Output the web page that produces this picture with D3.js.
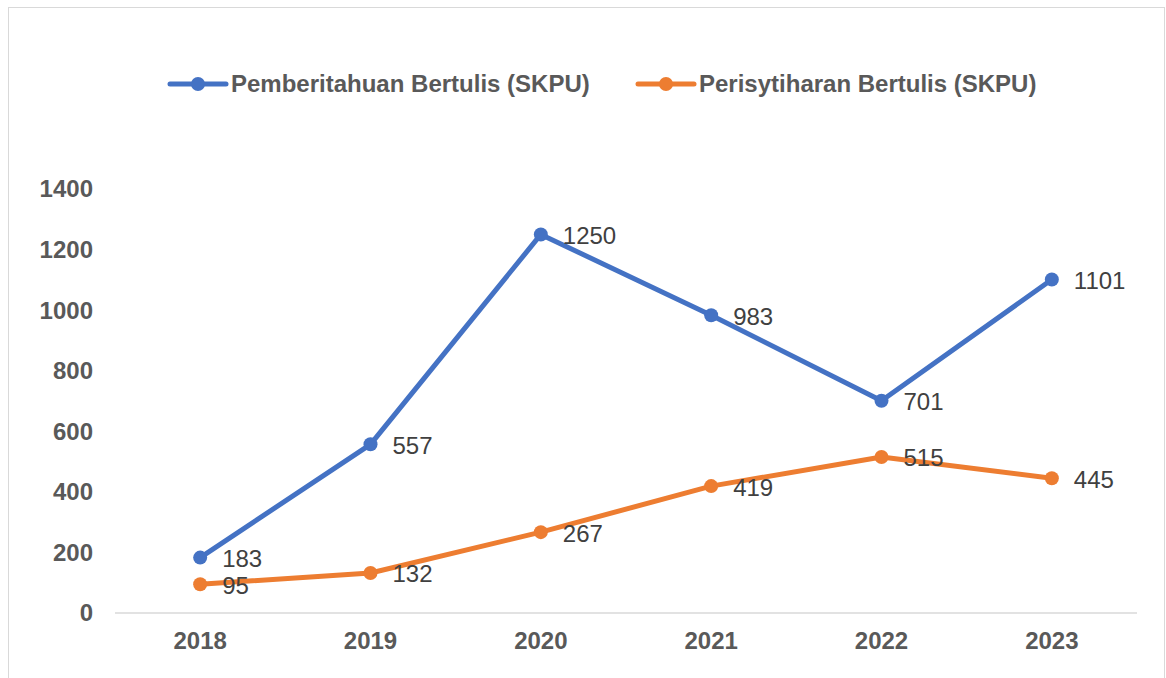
<!DOCTYPE html>
<html>
<head>
<meta charset="utf-8">
<script src="https://cdn.jsdelivr.net/npm/d3@7"></script>
<style>
  body { margin: 0; background: #fff; }
  svg { display: block; font-family: "Liberation Sans", Arial, sans-serif; }
</style>
</head>
<body>
<div id="chart"></div>
<script>
// chart data
var years = ["2018", "2019", "2020", "2021", "2022", "2023"];
var pemberitahuan = [183, 557, 1250, 983, 701, 1101];
var perisytiharan = [95, 132, 267, 419, 515, 445];
var seriesNames = ["Pemberitahuan Bertulis (SKPU)", "Perisytiharan Bertulis (SKPU)"];
var seriesColors = ["#4472C4", "#ED7D31"];
var yTicks = [0, 200, 400, 600, 800, 1000, 1200, 1400];

var W = 1166, H = 678;
var margin = { top: 189, right: 29, bottom: 65, left: 115 };

var svg = d3.select("#chart").append("svg")
  .attr("width", W)
  .attr("height", H);

// outer frame
svg.append("rect")
  .attr("x", 8.5).attr("y", 7.5)
  .attr("width", W - 10).attr("height", H + 10)
  .attr("fill", "none")
  .attr("stroke", "#d9d9d9");

var x = d3.scaleBand()
  .domain(years)
  .range([margin.left, W - margin.right]);

var y = d3.scaleLinear()
  .domain([0, 1400])
  .range([H - margin.bottom, margin.top]);

// baseline
svg.append("line")
  .attr("x1", margin.left).attr("x2", W - margin.right)
  .attr("y1", y(0)).attr("y2", y(0))
  .attr("stroke", "#d9d9d9")
  .attr("stroke-width", 1.5);

// y axis labels
svg.append("g")
  .selectAll("text")
  .data(yTicks)
  .join("text")
  .attr("x", 93)
  .attr("y", (d) => y(d))
  .attr("dy", "0.35em")
  .attr("text-anchor", "end")
  .attr("font-size", 24)
  .attr("font-weight", "bold")
  .attr("fill", "#595959")
  .text((d) => d);

// x axis labels
svg.append("g")
  .selectAll("text")
  .data(years)
  .join("text")
  .attr("x", (d) => x(d) + x.bandwidth() / 2)
  .attr("y", y(0) + 28)
  .attr("dy", "0.35em")
  .attr("text-anchor", "middle")
  .attr("font-size", 24)
  .attr("font-weight", "bold")
  .attr("fill", "#595959")
  .text((d) => d);

var line = d3.line()
  .x((d, i) => x(years[i]) + x.bandwidth() / 2)
  .y((d) => y(d));

[pemberitahuan, perisytiharan].forEach(function (vals, k) {
  var g = svg.append("g");
  g.append("path")
    .datum(vals)
    .attr("d", line)
    .attr("fill", "none")
    .attr("stroke", seriesColors[k])
    .attr("stroke-width", 5)
    .attr("stroke-linejoin", "round")
    .attr("stroke-linecap", "round");

  g.selectAll("circle")
    .data(vals)
    .join("circle")
    .attr("cx", (d, i) => x(years[i]) + x.bandwidth() / 2)
    .attr("cy", (d) => y(d))
    .attr("r", 7)
    .attr("fill", seriesColors[k]);

  g.selectAll("text")
    .data(vals)
    .join("text")
    .attr("x", (d, i) => x(years[i]) + x.bandwidth() / 2 + 22)
    .attr("y", (d) => y(d) + 1)
    .attr("dy", "0.35em")
    .attr("font-size", 24)
    .attr("fill", "#404040")
    .text((d) => d);
});

// legend
var legendX = [170, 638];
var legend = svg.append("g");
seriesNames.forEach(function (name, k) {
  var lg = legend.append("g").attr("transform", "translate(" + legendX[k] + ",84)");
  lg.append("line")
    .attr("x1", 0).attr("x2", 56)
    .attr("stroke", seriesColors[k])
    .attr("stroke-width", 5)
    .attr("stroke-linecap", "round");
  lg.append("circle")
    .attr("cx", 28).attr("r", 7)
    .attr("fill", seriesColors[k]);
  lg.append("text")
    .attr("x", 61)
    .attr("dy", "0.35em")
    .attr("font-size", 24)
    .attr("font-weight", "bold")
    .attr("fill", "#595959")
    .text(name);
});
</script>
</body>
</html>
